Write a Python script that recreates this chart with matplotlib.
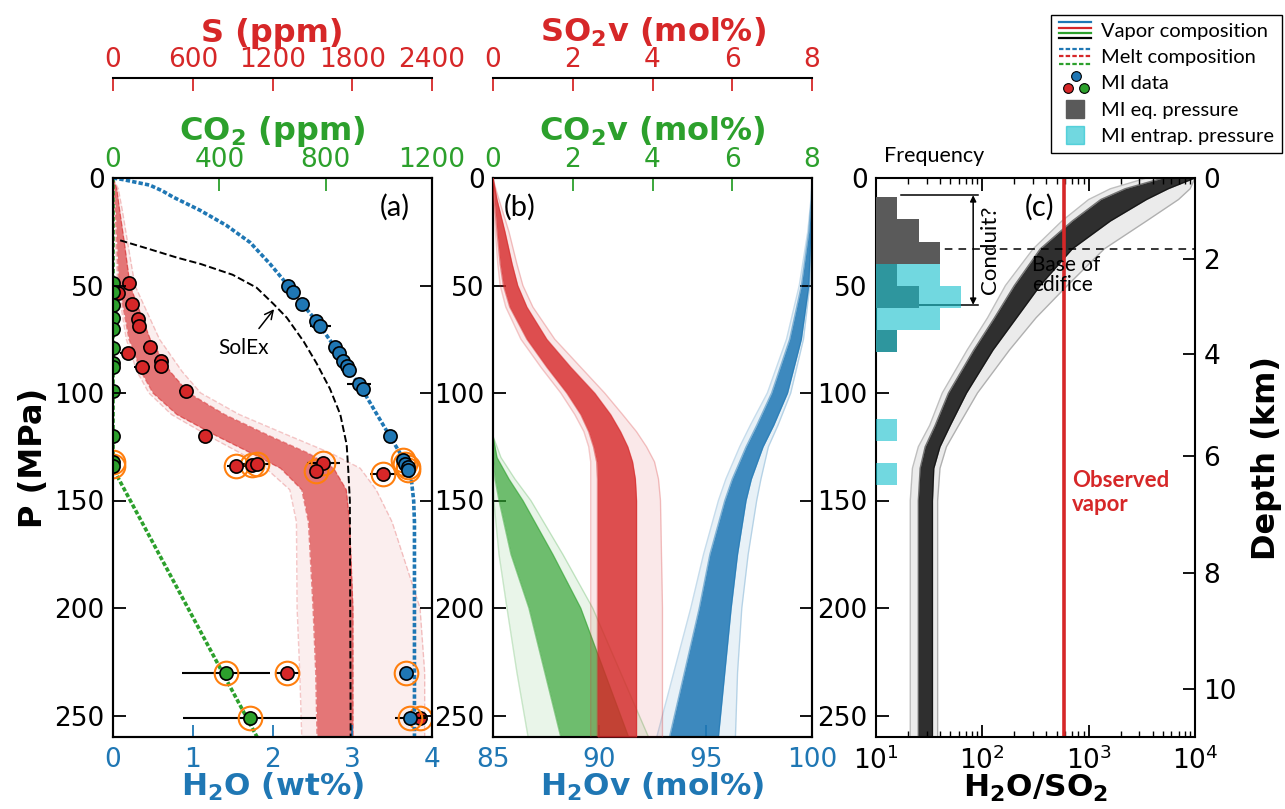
import numpy as np
import matplotlib
matplotlib.use("Agg")
import matplotlib.pyplot as plt
from matplotlib.lines import Line2D
from matplotlib.legend_handler import HandlerBase

blue = "#1f77b4"
red = "#d62728"
green = "#2ca02c"
orange = "#ff7f0e"
eq_gray = "#5a5a5a"
entrap_cyan = "#12bfcc"
note_font = ["Lato", "DejaVu Sans"]

# ---------------- panel (a): melt composition ----------------
# red S degassing ensemble (ppm), envelope of the model runs
a_red_p = [0, 5, 15, 30, 50, 75, 90, 100, 110, 120, 128, 135, 145, 160, 200, 230, 260]
a_red_core_lo = [0, 8, 18, 28, 45, 120, 210, 300, 480, 780, 1040, 1260, 1420, 1470, 1505, 1525, 1535]
a_red_core_hi = [0, 28, 50, 85, 128, 280, 430, 570, 840, 1180, 1470, 1660, 1755, 1780, 1805, 1805, 1805]
a_red_out_lo = [0, 4, 10, 18, 35, 100, 180, 270, 440, 720, 960, 1150, 1330, 1380, 1385, 1405, 1420]
a_red_out_hi = [0, 40, 70, 110, 165, 350, 520, 660, 950, 1330, 1640, 1860, 1980, 2100, 2310, 2345, 2345]

# melt H2O (wt%) curve
melt_h2o_p = [0, 0.7, 1.7, 3.3, 6, 8.8, 15, 22, 30, 40, 48, 58, 66, 78, 87, 98, 110, 120,
              128, 134, 140, 150, 160, 260]
melt_h2o = [0, 0.12, 0.25, 0.46, 0.62, 0.75, 1.09, 1.42, 1.72, 1.97, 2.15, 2.36, 2.54, 2.77,
            2.92, 3.12, 3.31, 3.47, 3.6, 3.69, 3.74, 3.77, 3.78, 3.78]

# melt CO2 (ppm) curve
melt_co2_p = [0, 135, 260]
melt_co2 = [0, 0, 542]

# SolEx curve (H2O wt%)
solex_p = [29, 33, 37, 40, 45, 51, 58.5, 65, 76, 86, 98, 110, 124, 136, 150, 260]
solex_h2o = [0.09, 0.45, 0.8, 1.1, 1.5, 1.8, 2.01, 2.18, 2.39, 2.55, 2.72, 2.85, 2.93, 2.95, 2.97, 2.98]

# melt inclusion data
mi_h2o_p = [50, 53, 58.6, 66.4, 68.7, 78.8, 81.6, 85, 87.4, 89.3, 95.9, 98.3, 120, 131, 133, 134.5, 136, 230, 251]
mi_h2o = [2.20, 2.26, 2.37, 2.55, 2.60, 2.78, 2.83, 2.89, 2.93, 2.96, 3.08, 3.14, 3.47, 3.64, 3.66, 3.70, 3.70, 3.68, 3.73]
mi_h2o_err = [0, 0, 0, 0, 0.13, 0, 0, 0, 0, 0, 0.15, 0, 0, 0, 0, 0, 0, 0, 0.2]

mi_s_p = [49, 53.6, 58.6, 65.6, 69, 78.8, 81.2, 85, 87.4, 88, 99, 120, 134, 133.3, 133, 132.6, 136.4, 137.7, 230, 251]
mi_s = [123, 40, 140, 190, 198, 278, 115, 361, 361, 216, 549, 692, 925, 1044, 1081, 1582, 1527, 2034, 1312, 2310]
mi_s_err = [0, 0, 0, 0, 0, 50, 60, 55, 0, 60, 50, 0, 70, 100, 100, 125, 0, 100, 90, 0]

mi_co2_p = [49, 53, 59, 65, 70, 79, 86, 88, 99, 120, 132, 134, 230, 251]
mi_co2 = [0, 0, 0, 0, 0, 0, 0, 0, 0, 0, 0, 0, 425, 515]
mi_co2_err = [0, 0, 0, 0, 0, 0, 0, 0, 0, 0, 0, 0, 166, 250]
ring_p_min = 128

# ---------------- panel (b): vapor composition ----------------
b_red_p = [0, 5, 10, 25, 40, 50, 60, 75, 88, 100, 110, 118, 125, 132, 140, 150, 200, 260]
b_red_core_lo = [0, 0.01, 0.03, 0.1, 0.18, 0.26, 0.42, 0.85, 1.35, 1.85, 2.2, 2.4, 2.52, 2.6, 2.62, 2.62, 2.62, 2.62]
b_red_core_hi = [0, 0.05, 0.1, 0.3, 0.48, 0.62, 0.85, 1.35, 1.95, 2.55, 2.95, 3.2, 3.38, 3.5, 3.57, 3.6, 3.6, 3.6]
b_red_out_lo = [0, 0.005, 0.015, 0.06, 0.12, 0.18, 0.32, 0.7, 1.2, 1.7, 2.05, 2.28, 2.4, 2.45, 2.45, 2.45, 2.45, 2.45]
b_red_out_hi = [0, 0.07, 0.15, 0.4, 0.6, 0.75, 1.0, 1.55, 2.2, 2.8, 3.25, 3.6, 3.85, 4.05, 4.15, 4.2, 4.25, 4.25]

b_green_p = [0, 120, 130, 140, 150, 175, 200, 230, 260]
b_green_core_lo = [0, 0, 0, 0.05, 0.15, 0.45, 0.9, 1.3, 1.7]
b_green_core_hi = [0, 0, 0.1, 0.4, 0.75, 1.5, 2.2, 2.8, 3.4]
b_green_out_lo = [0, 0, 0, 0, 0.02, 0.15, 0.35, 0.6, 0.88]
b_green_out_hi = [0, 0, 0.2, 0.55, 0.95, 1.75, 2.5, 3.2, 3.9]

b_blue_p = [0, 10, 25, 50, 75, 100, 115, 125, 140, 150, 175, 200, 230, 260]
b_blue_core_lo = [100, 99.97, 99.85, 99.5, 98.95, 98.1, 97.4, 96.9, 96.25, 95.9, 95.2, 94.7, 94.0, 93.3]
b_blue_core_hi = [100, 99.99, 99.95, 99.85, 99.5, 98.85, 98.2, 97.7, 97.15, 96.9, 96.5, 96.2, 95.9, 95.6]
b_blue_out_lo = [100, 99.95, 99.8, 99.4, 98.8, 97.9, 97.1, 96.6, 95.95, 95.6, 94.9, 94.3, 93.5, 92.7]
b_blue_out_hi = [100, 100, 99.97, 99.9, 99.6, 99.0, 98.4, 97.95, 97.6, 97.4, 97.0, 96.7, 96.5, 96.4]

# ---------------- panel (c): H2O/SO2 ----------------
c_p = [0, 5, 10, 20, 33, 50, 65, 80, 100, 115, 125, 135, 150, 200, 260]
c_out_lo = [3500, 1600, 1000, 560, 300, 165, 112, 72, 42, 32, 25, 22, 21, 21, 21]
c_out_hi = [10000, 9000, 7000, 3500, 1400, 630, 320, 180, 90, 60, 46, 40, 38, 38, 38]
c_core_lo = [5000, 2200, 1300, 700, 350, 200, 130, 83, 48, 36, 29, 26, 25, 25, 25]
c_core_hi = [10000, 5600, 3500, 1600, 700, 350, 210, 126, 71, 50, 40, 35, 34, 34, 34]
observed_ratio = 580
edifice_base_p = 33

hist_edges = [9, 19.3, 29.6, 39.9, 50.2, 60.5, 70.8, 81.1, 91.4, 101.7, 112, 122.3, 132.6, 142.9]
eq_counts = [1, 2, 3, 1, 2, 0, 1, 0, 0, 0, 0, 0, 0]
entrap_counts = [0, 0, 0, 3, 4, 3, 1, 0, 0, 0, 1, 0, 1]

conduit_p = [8, 59]
conduit_top_x = [17, 91]
conduit_bot_x = [23, 91]
conduit_arrow_x = 82

depth_tick_p = [0, 37.9, 81.8, 129.4, 183.6, 237.9]
depth_tick_km = [0, 2, 4, 6, 8, 10]
p_ticks = [0, 50, 100, 150, 200, 250]

plt.rcParams.update({
    "font.family": "DejaVu Sans",
    "xtick.direction": "in", "ytick.direction": "in",
    "xtick.major.size": 9, "ytick.major.size": 9,
    "xtick.minor.size": 4.5, "ytick.minor.size": 4.5,
    "xtick.major.width": 1.3, "ytick.major.width": 1.3,
    "xtick.minor.width": 1.0,
    "xtick.labelsize": 19, "ytick.labelsize": 19,
    "xtick.major.pad": 7, "ytick.major.pad": 6,
    "axes.linewidth": 1.5,
    "axes.labelsize": 23, "axes.labelweight": "bold",
})


class StackedLines(HandlerBase):
    def __init__(self, colors, linestyle):
        super().__init__()
        self.colors = colors
        self.linestyle = linestyle

    def create_artists(self, legend, orig_handle, xdescent, ydescent,
                       width, height, fontsize, trans):
        n = len(self.colors)
        arts = []
        for i, c in enumerate(self.colors):
            y = -ydescent + height * (1.05 - 1.1 * i / (n - 1))
            ln = Line2D([-xdescent, width - xdescent], [y, y], color=c,
                        ls=self.linestyle, lw=1.6)
            ln.set_transform(trans)
            arts.append(ln)
        return arts


class TriDots(HandlerBase):
    def create_artists(self, legend, orig_handle, xdescent, ydescent,
                       width, height, fontsize, trans):
        spots = [(0.3, 0.1, red), (0.55, 0.95, blue), (0.8, 0.1, green)]
        arts = []
        for fx, fy, c in spots:
            ln = Line2D([-xdescent + fx * width], [-ydescent + fy * height], marker="o",
                        ms=7, mfc=c, mec="k", mew=0.8, ls="")
            ln.set_transform(trans)
            arts.append(ln)
        return arts


def band(ax, p, out_lo, out_hi, core_lo, core_hi, color, a_out=0.1, a_core=0.8, ls="-"):
    ax.fill_betweenx(p, out_lo, out_hi, color=color, alpha=a_out, lw=0)
    ax.fill_betweenx(p, core_lo, core_hi, color=color, alpha=a_core, lw=0)
    for edge in (out_lo, out_hi):
        ax.plot(edge, p, color=color, alpha=0.25, lw=1, ls=ls)
    for edge in (core_lo, core_hi):
        ax.plot(edge, p, color=color, alpha=0.5, lw=1, ls=ls)


W, H = 1285, 809
fig = plt.figure(figsize=(W / 100, H / 100), dpi=100)


def panel(x0):
    return fig.add_axes([x0 / W, 1 - 737 / H, 319 / W, 559 / H])


bottom_lab = dict(labelpad=-1.5, fontsize=22.5)

# ================= (a) =================
ax_a = panel(113)
ax_a_co2 = ax_a.twiny()
ax_a_s = ax_a.twiny()
ax_a.set_zorder(3)
ax_a_co2.set_zorder(2)
ax_a_s.set_zorder(1)
ax_a.patch.set_visible(False)

ax_a.set_xlim(0, 4)
ax_a_co2.set_xlim(0, 1200)
ax_a_s.set_xlim(0, 2400)
ax_a.set_ylim(260, 0)
ax_a.set_yticks(p_ticks)
ax_a.yaxis.set_ticks_position("both")
ax_a.set_xticks([0, 1, 2, 3, 4])
ax_a.tick_params(axis="x", colors=blue)
ax_a_co2.set_xticks([0, 400, 800, 1200])
ax_a_co2.tick_params(axis="x", colors=green, pad=3.5)
ax_a_s.set_xticks([0, 600, 1200, 1800, 2400])
ax_a_s.tick_params(axis="x", colors=red, pad=3.5)
ax_a_s.spines["top"].set_position(("outward", 72))
for sp in ["left", "right", "bottom"]:
    ax_a_s.spines[sp].set_visible(False)

ax_a.set_ylabel("P (MPa)")
ax_a.set_xlabel(r"H$_\mathbf{2}$O (wt%)", color=blue, **bottom_lab)
ax_a_co2.set_xlabel(r"CO$_\mathbf{2}$ (ppm)", color=green, labelpad=5)
ax_a_s.set_xlabel("S (ppm)", color=red, labelpad=4)

band(ax_a_s, a_red_p, a_red_out_lo, a_red_out_hi, a_red_core_lo, a_red_core_hi,
     red, a_out=0.08, a_core=0.6, ls="--")

melt_ls = (0, (1.2, 0.6))
ax_a.plot(melt_h2o, melt_h2o_p, color=blue, lw=2.6, ls=melt_ls)
ax_a_co2.plot(melt_co2, melt_co2_p, color=green, lw=2.6, ls=melt_ls)
ax_a.plot(solex_h2o, solex_p, color="k", lw=1.4, ls="--")
ax_a.annotate("SolEx", xy=(2.02, 61), xytext=(1.64, 79), ha="center", va="center",
              fontsize=15, family=note_font,
              arrowprops=dict(arrowstyle="->", color="k", lw=1.1, shrinkA=6, shrinkB=0))

dot_kw = dict(fmt="o", ms=9.5, mec="k", mew=1.2, ecolor="k", elinewidth=1.5, capsize=0)
ring_kw = dict(ls="", marker="o", ms=17, mfc="none", mec=orange, mew=1.5)

ax_a_s.errorbar(mi_s, mi_s_p, xerr=mi_s_err, mfc=red, **dot_kw)
ring = np.array(mi_s_p) >= ring_p_min
ax_a_s.plot(np.array(mi_s)[ring], np.array(mi_s_p)[ring], **ring_kw)

ax_a_co2.errorbar(mi_co2, mi_co2_p, xerr=mi_co2_err, mfc=green, **dot_kw)
ring = np.array(mi_co2_p) >= ring_p_min
ax_a_co2.plot(np.array(mi_co2)[ring], np.array(mi_co2_p)[ring], **ring_kw)

ax_a.errorbar(mi_h2o, mi_h2o_p, xerr=mi_h2o_err, mfc=blue, **dot_kw)
ring = np.array(mi_h2o_p) >= ring_p_min
ax_a.plot(np.array(mi_h2o)[ring], np.array(mi_h2o_p)[ring], **ring_kw)

ax_a.text(0.884, 0.948, "(a)", transform=ax_a.transAxes, ha="center", va="center",
          fontsize=21, family=note_font)

# ================= (b) =================
ax_b = panel(493)
ax_b_co2 = ax_b.twiny()
ax_b_so2 = ax_b.twiny()
ax_b.set_xlim(85, 100)
ax_b_co2.set_xlim(0, 8)
ax_b_so2.set_xlim(0, 8)
ax_b.set_ylim(260, 0)
ax_b.set_yticks(p_ticks)
ax_b.yaxis.set_ticks_position("both")
ax_b.set_xticks([85, 90, 95, 100])
ax_b.tick_params(axis="x", colors=blue)
ax_b_co2.set_xticks([0, 2, 4, 6, 8])
ax_b_co2.tick_params(axis="x", colors=green, pad=3.5)
ax_b_so2.set_xticks([0, 2, 4, 6, 8])
ax_b_so2.tick_params(axis="x", colors=red, pad=3.5)
ax_b_so2.spines["top"].set_position(("outward", 72))
for sp in ["left", "right", "bottom"]:
    ax_b_so2.spines[sp].set_visible(False)

ax_b.set_xlabel(r"H$_\mathbf{2}$Ov (mol%)", color=blue, **bottom_lab)
ax_b_co2.set_xlabel(r"CO$_\mathbf{2}$v (mol%)", color=green, labelpad=5)
ax_b_so2.set_xlabel(r"SO$_\mathbf{2}$v (mol%)", color=red, labelpad=4)

band(ax_b, b_blue_p, b_blue_out_lo, b_blue_out_hi, b_blue_core_lo, b_blue_core_hi, blue,
     a_core=0.85)
band(ax_b_co2, b_green_p, b_green_out_lo, b_green_out_hi, b_green_core_lo, b_green_core_hi,
     green, a_core=0.65)
band(ax_b_so2, b_red_p, b_red_out_lo, b_red_out_hi, b_red_core_lo, b_red_core_hi, red,
     a_core=0.8)

ax_b.text(0.085, 0.948, "(b)", transform=ax_b.transAxes, ha="center", va="center",
          fontsize=21, family=note_font)

# ================= (c) =================
ax_c = panel(876)
ax_c.set_xscale("log")
ax_c.set_xlim(10, 1e4)
ax_c.set_ylim(260, 0)
ax_h = ax_c.twiny()
ax_d = ax_c.twinx()
ax_c.xaxis.set_ticks_position("both")
ax_c.set_yticks(p_ticks)

ax_h.set_xlim(0, 15)
ax_h.set_xticks([])
for sp in ax_h.spines.values():
    sp.set_visible(False)

ax_d.set_ylim(260, 0)
ax_d.set_yticks(depth_tick_p)
ax_d.set_yticklabels([str(k) for k in depth_tick_km])
ax_d.set_ylabel("Depth (km)", labelpad=10)
for sp in ax_d.spines.values():
    sp.set_visible(False)

band(ax_c, c_p, c_out_lo, c_out_hi, c_core_lo, c_core_hi, "k", a_out=0.08, a_core=0.8)
ax_c.axvline(observed_ratio, color=red, lw=2.6)
ax_c.axhline(edifice_base_p, color="k", lw=1.1, ls="--", dashes=(5, 4))
ax_c.set_xlabel(r"H$_\mathbf{2}$O/SO$_\mathbf{2}$", **bottom_lab)

ax_h.barh(hist_edges[:-1], eq_counts, height=np.diff(hist_edges), align="edge",
          color=eq_gray, lw=0)
ax_h.barh(hist_edges[:-1], entrap_counts, height=np.diff(hist_edges), align="edge",
          color=entrap_cyan, alpha=0.6, lw=0)

ax_c.plot(conduit_top_x, [conduit_p[0]] * 2, color="k", lw=1.1)
ax_c.plot(conduit_bot_x, [conduit_p[1]] * 2, color="k", lw=1.1)
ax_c.annotate("", xy=(conduit_arrow_x, conduit_p[0]), xytext=(conduit_arrow_x, conduit_p[1]),
              arrowprops=dict(arrowstyle="<|-|>", color="k", lw=1.1,
                              mutation_scale=9, shrinkA=0, shrinkB=0))
ax_c.text(118, sum(conduit_p) / 2, "Conduit?", rotation=90, ha="center", va="center",
          fontsize=16, family=note_font)
ax_c.text(294, 36, "Base of\nedifice", ha="left", va="top", fontsize=15,
          family=note_font, linespacing=1.0)
ax_c.text(698, 136, "Observed\nvapor", ha="left", va="top", fontsize=16,
          family=note_font, color=red, fontweight="bold", linespacing=1.15)
ax_c.text(0.514, 0.948, "(c)", transform=ax_c.transAxes, ha="center", va="center",
          fontsize=21, family=note_font)
ax_c.text(0.025, 1.022, "Frequency", transform=ax_c.transAxes, ha="left", va="bottom",
          fontsize=15.5, family=note_font)

# ================= legend =================
h_vap = Line2D([], [], color="k")
h_melt = Line2D([], [], color="k", ls="--")
h_mi = Line2D([], [], marker="o", ls="")
h_eq = Line2D([], [], marker="s", ls="", color=eq_gray, ms=13)
h_en = Line2D([], [], marker="s", ls="", color=entrap_cyan, alpha=0.6, ms=13)
leg = fig.legend(
    [h_vap, h_melt, h_mi, h_eq, h_en],
    ["Vapor composition", "Melt composition", "MI data", "MI eq. pressure", "MI entrap. pressure"],
    handler_map={h_vap: StackedLines([blue, red, green, "k"], "-"),
                 h_melt: StackedLines([blue, red, green], (0, (2, 1))),
                 h_mi: TriDots()},
    loc="upper right", bbox_to_anchor=(1282 / W, 1 - 15 / H), borderaxespad=0,
    prop={"family": note_font, "size": 14.5}, fancybox=False, framealpha=1,
    edgecolor="k", handlelength=1.6, handletextpad=0.5, labelspacing=0.45,
    borderpad=0.4,
)
leg.get_frame().set_linewidth(1.0)

fig.savefig("out.png", dpi=100)
